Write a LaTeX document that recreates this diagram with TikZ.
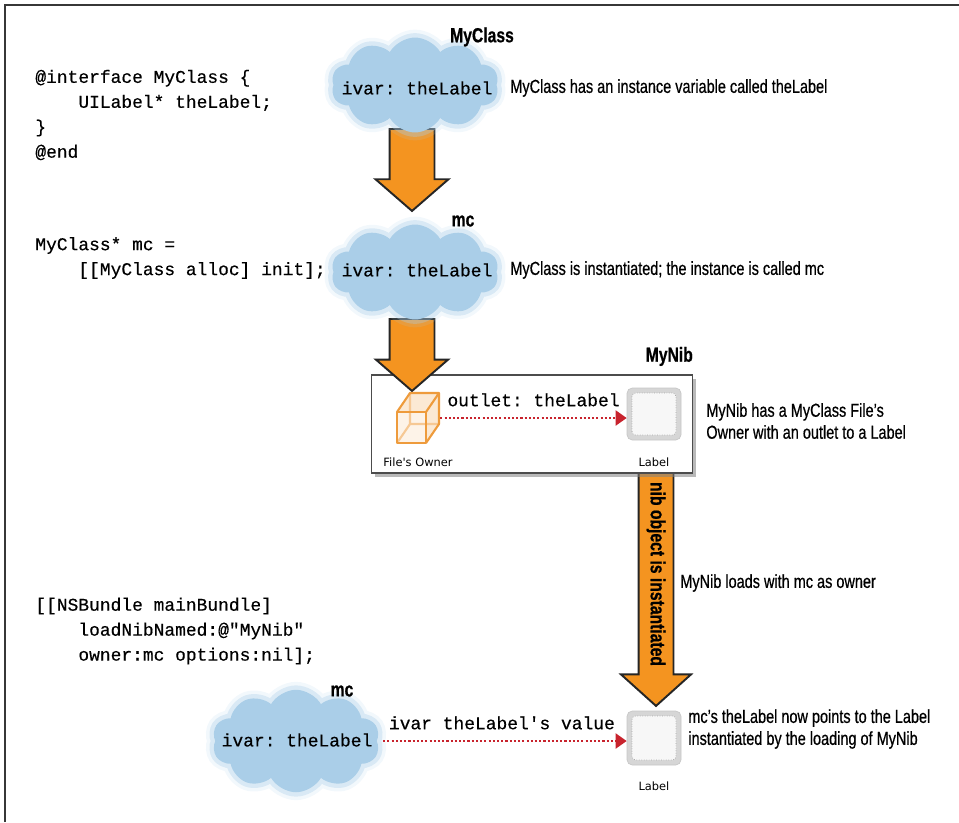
\documentclass[tikz,border=0pt]{standalone}
\usepackage{fontspec}
\setmonofont{Liberation Mono}[FakeBold=0.4]
\newfontfamily\notefont{Liberation Sans}[FakeStretch=0.77, FakeBold=0.6]
\newfontfamily\iconfont{DejaVu Sans}
\usetikzlibrary{
  arrows.meta,
  positioning,
  shadows,
  shapes.arrows,
  shapes.symbols
}
\definecolor{nibblue}{RGB}{170,206,232}
\definecolor{niborange}{RGB}{244,148,32}
\definecolor{nibred}{RGB}{200,35,45}
\definecolor{nibframe}{RGB}{55,55,55}
\definecolor{nibcube}{RGB}{238,155,60}
\newcommand{\codesize}{\fontsize{10.2pt}{14.2pt}\selectfont}
\newcommand{\notesize}{\fontsize{10.7pt}{12.5pt}\selectfont}
\newcommand{\titlesize}{\fontsize{11.6pt}{13pt}\selectfont}
\newcommand{\iconsize}{\fontsize{6.5pt}{8pt}\selectfont}
\tikzset{
  nibCloud/.style={
    cloud,
    cloud puffs=10,
    cloud puff arc=120,
    cloud ignores aspect,
    fill=nibblue,
    draw=none,
    preaction={draw=nibblue, line width=9pt, opacity=0.15},
    preaction={draw=nibblue, line width=5pt, opacity=0.35},
    minimum width=3.35cm,
    minimum height=1.9cm
  },
  nibArrow/.style={
    single arrow,
    rotate=-90,
    anchor=tail,
    fill=niborange,
    draw=black!85,
    line width=1.1pt,
    inner xsep=0pt,
    single arrow tip angle=98
  },
  nibBox/.style={
    draw=black!70,
    line width=0.8pt,
    fill=white,
    drop shadow={shadow xshift=2pt, shadow yshift=-2pt, opacity=0.55}
  },
  labelWidget/.style={
    rounded corners=3pt,
    fill=black!16,
    draw=black!22,
    minimum width=1.08cm,
    minimum height=1.04cm,
    path picture={
      \draw[black!35, densely dotted, fill=black!3, rounded corners=2pt]
        ([shift={(5,-5)}]path picture bounding box.south west) rectangle
        ([shift={(-5,5)}]path picture bounding box.north east);
    }
  },
  nibLink/.style={
    draw=nibred,
    line width=1.2pt,
    dash pattern=on 1.2pt off 1.2pt,
    -{Triangle[length=0.22cm, width=0.3cm]}
  },
  codeText/.style={align=left, inner sep=0pt, font=\ttfamily\codesize},
  noteText/.style={anchor=west, align=left, inner sep=0pt, font=\notefont\notesize},
  titleText/.style={inner sep=0pt, font=\notefont\bfseries\titlesize},
  iconText/.style={inner sep=0pt, font=\iconfont\iconsize}
}

\begin{document}
\begin{tikzpicture}[x=0.02cm, y=-0.02cm]
  \useasboundingbox (0,0) rectangle (959,822);
  \draw[nibframe, line width=0.045cm] (5,822) -- (5,5) -- (959,5);

  % fat arrows go underneath clouds and the nib box
  \node[nibArrow, minimum height=1.64cm, inner ysep=0.43cm,
    single arrow head extend=0.28cm] (define) at (412,128) {};
  \node[nibArrow, minimum height=4.7cm, inner ysep=0.33cm,
    single arrow head extend=0.35cm, single arrow tip angle=96]
    (load) at (656,470) {};
  \node[titleText, rotate=-90] (loadtext) at (656,574)
    {nib object is instantiated};

  % the nib
  \node[nibBox, minimum width=6.42cm, minimum height=1.96cm]
    (nib) at (532,424) {};
  \node[titleText, above left=0.16cm and 0cm of nib.north east]
    (nibtitle) {MyNib};

  \node[nibArrow, minimum height=1.44cm, inner ysep=0.43cm,
    single arrow head extend=0.27cm] (alloc) at (412,318) {};

  % clouds
  \node[nibCloud] (cls) at (415,85) {};
  \node[nibCloud] (mc) at (415,272) {};
  \node[nibCloud, minimum height=2.05cm] (mcloaded) at (296,741) {};

  \node[codeText] (clsvar) at (417,88) {ivar: theLabel};
  \node[codeText] (mcvar) at (417,270) {ivar: theLabel};
  \node[codeText] (loadedvar) at (297,740) {ivar: theLabel};

  \node[titleText] (clstitle) at (482,37) {MyClass};
  \node[titleText] (mctitle) at (463,221) {mc};
  \node[titleText] (loadedtitle) at (342,691) {mc};

  % file's owner cube
  \node[minimum width=0.88cm, minimum height=1cm, inner sep=0pt]
    (owner) at (418,418) {};
  \begin{scope}[shift={(owner.center)}, line width=1.2pt, line join=round]
    \fill[nibcube!22] (-21,25) -- (-21,-6) -- (-8,-25) -- (21,-25)
      -- (21,6) -- (8,25) -- cycle;
    \fill[nibcube!12] (-21,-6) rectangle (8,25);
    \draw[nibcube!55] (-8,-25) -- (-8,6) -- (21,6) (-8,6) -- (-21,25);
    \draw[nibcube] (-21,-6) rectangle (8,25);
    \draw[nibcube] (-21,-6) -- (-8,-25) -- (21,-25) -- (8,-6);
    \draw[nibcube] (21,-25) -- (21,6) -- (8,25);
  \end{scope}
  \node[iconText, below=0.28cm of owner] (ownertext) {File's Owner};

  % label objects
  \node[labelWidget] (label1) at (654,414) {};
  \node[iconText, below=0.34cm of label1] (label1text) {Label};
  \node[labelWidget, minimum height=1.08cm] (label2) at (654,738) {};
  \node[iconText, below=0.32cm of label2] (label2text) {Label};

  \draw[nibLink] (owner.east) -- (owner.east -| label1.west)
    node[codeText, midway, above=6pt] (outlettext) {outlet: theLabel};
  \draw[nibLink, shorten <=0.12cm] (mcloaded.east) -- (mcloaded.east -| label2.west)
    node[codeText, midway, above=6pt] (valuetext) {ivar theLabel's value};

  % source code
  \node[codeText, anchor=west] (ifacecode) at (35,115)
    {@interface MyClass \{\\\phantom{1234}UILabel* theLabel;\\\}\\@end};
  \node[codeText, anchor=west] (alloccode) at (35,258)
    {MyClass* mc =\\\phantom{1234}[[MyClass alloc] init];};
  \node[codeText, anchor=west] (loadcode) at (35,631)
    {[[NSBundle mainBundle]\\\phantom{1234}loadNibNamed:@"MyNib"\\\phantom{1234}owner:mc options:nil];};

  % notes
  \node[noteText] (clsnote) at (510,88)
    {MyClass has an instance variable called theLabel};
  \node[noteText] (mcnote) at (510,270)
    {MyClass is instantiated; the instance is called mc};
  \node[noteText] (nibnote) at (706,421)
    {MyNib has a MyClass File’s\\Owner with an outlet to a Label};
  \node[noteText] (loadnote) at (680,583) {MyNib loads with mc as owner};
  \node[noteText] (valuenote) at (688,729)
    {mc’s theLabel now points to the Label\\instantiated by the loading of MyNib};
\end{tikzpicture}
\end{document}
